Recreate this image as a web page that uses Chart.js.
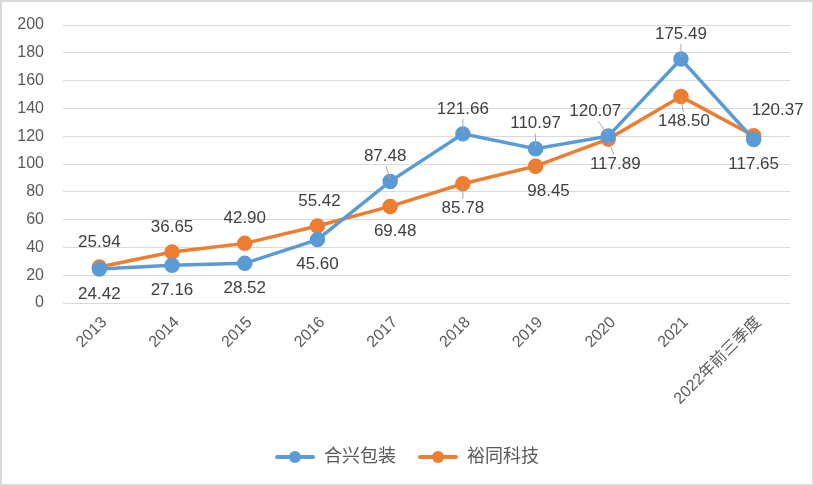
<!DOCTYPE html>
<html>
<head>
<meta charset="utf-8">
<script src="https://cdn.jsdelivr.net/npm/chart.js@4.4.0/dist/chart.umd.min.js"></script>
<style>
  body { margin: 0; background: #ffffff; }
  #wrap { width: 814px; height: 486px; }
</style>
</head>
<body>
<div id="wrap"><canvas id="grafico" width="814" height="486"></canvas></div>
<script>
// Datos del gráfico
const categorias = ['2013', '2014', '2015', '2016', '2017', '2018', '2019', '2020', '2021', '2022年前三季度'];
const nombresSeries = ['合兴包装', '裕同科技'];
const valoresHexing = [24.42, 27.16, 28.52, 45.60, 87.48, 121.66, 110.97, 120.07, 175.49, 117.65];
const valoresYutong = [25.94, 36.65, 42.90, 55.42, 69.48, 85.78, 98.45, 117.89, 148.50, 120.37];
const ticksY = [0, 20, 40, 60, 80, 100, 120, 140, 160, 180, 200];

// Posición de las etiquetas (arriba = -1, abajo = 1) y pequeños desplazamientos
const posHexing = [1, 1, 1, 1, -1, -1, -1, -1, -1, 1];
const dxHexing = [0, 0, 0, 0, -5, 0, 0, -13, 0, 0];
const posYutong = [-1, -1, -1, -1, 1, 1, 1, 1, 1, -1];
const dxYutong = [0, 0, 0, 2, 5, 0, 13, 7, 3, 24];
const guiaHexing = [false, false, false, false, true, true, true, true, true, false];
const guiaYutong = [false, false, false, false, false, true, false, true, true, false];

const AZUL = '#5b9bd5';
const NARANJA = '#ed7d31';
const FUENTE = "'Liberation Sans', 'Noto Sans CJK SC', sans-serif";

function iconoLeyenda(color) {
    let c = document.createElement('canvas');
    c.width = 40;
    c.height = 14;
    let ctx = c.getContext('2d');
    ctx.strokeStyle = color;
    ctx.lineWidth = 4;
    ctx.lineCap = 'round';
    ctx.beginPath();
    ctx.moveTo(2, 7);
    ctx.lineTo(38, 7);
    ctx.stroke();
    ctx.fillStyle = color;
    ctx.beginPath();
    ctx.arc(20, 7, 6, 0, Math.PI * 2);
    ctx.fill();
    return c;
}

// Fondo blanco y borde gris
const pluginFondo = {
    id: 'fondo',
    beforeDraw: function(chart) {
        let ctx = chart.ctx;
        ctx.save();
        ctx.fillStyle = '#ffffff';
        ctx.fillRect(0, 0, chart.width, chart.height);
        ctx.strokeStyle = '#d9d9d9';
        ctx.lineWidth = 2;
        ctx.strokeRect(1, 1, chart.width - 2, chart.height - 2);
        ctx.restore();
    }
};

// Etiquetas de datos
const pluginEtiquetas = {
    id: 'etiquetas',
    afterDatasetsDraw: function(chart) {
        let ctx = chart.ctx;
        let config = [
            { pos: posHexing, dx: dxHexing, guia: guiaHexing },
            { pos: posYutong, dx: dxYutong, guia: guiaYutong }
        ];
        ctx.save();
        ctx.font = '17px ' + FUENTE;
        ctx.textAlign = 'center';
        ctx.textBaseline = 'middle';
        for (let d = 0; d < chart.data.datasets.length; d++) {
            let meta = chart.getDatasetMeta(d);
            let valores = chart.data.datasets[d].data;
            for (let i = 0; i < meta.data.length; i++) {
                let p = meta.data[i];
                let x = p.x + config[d].dx[i];
                let y = p.y + config[d].pos[i] * 25;
                if (config[d].guia[i]) {
                    ctx.strokeStyle = '#a6a6a6';
                    ctx.lineWidth = 1;
                    ctx.beginPath();
                    ctx.moveTo(p.x, p.y + config[d].pos[i] * 2);
                    ctx.lineTo(x + (p.x - x) * 0.2, y - config[d].pos[i] * 10);
                    ctx.stroke();
                }
                ctx.fillStyle = '#404040';
                ctx.fillText(valores[i].toFixed(2), x, y);
            }
        }
        ctx.restore();
    }
};

let ctx = document.getElementById('grafico').getContext('2d');
let miGrafico = new Chart(ctx, {
    type: 'line',
    data: {
        labels: categorias,
        datasets: [{
            label: nombresSeries[0],
            data: valoresHexing,
            borderColor: AZUL,
            backgroundColor: AZUL,
            borderWidth: 3.5,
            pointRadius: 6,
            pointBackgroundColor: AZUL,
            pointBorderColor: AZUL,
            tension: 0
        }, {
            label: nombresSeries[1],
            data: valoresYutong,
            borderColor: NARANJA,
            backgroundColor: NARANJA,
            borderWidth: 3.5,
            pointRadius: 6,
            pointBackgroundColor: NARANJA,
            pointBorderColor: NARANJA,
            tension: 0
        }]
    },
    options: {
        responsive: false,
        animation: false,
        layout: {
            padding: { left: 0, right: 0, top: 25, bottom: 10 }
        },
        scales: {
            x: {
                offset: true,
                grid: { display: false },
                border: { display: false },
                ticks: {
                    color: '#595959',
                    font: { size: 16, family: FUENTE },
                    minRotation: 45,
                    maxRotation: 45,
                    autoSkip: false,
                    padding: 2,
                    labelOffset: 5
                },
                afterFit: function(scale) {
                    scale.height = 123;
                }
            },
            y: {
                min: 0,
                max: 200,
                grid: { color: '#d9d9d9', lineWidth: 1, drawTicks: false },
                border: { display: false },
                afterBuildTicks: function(scale) {
                    scale.ticks = ticksY.map(function(v) { return { value: v }; });
                },
                ticks: {
                    color: '#595959',
                    font: { size: 16, family: FUENTE },
                    padding: 19
                },
                afterFit: function(scale) {
                    scale.width = 63;
                    scale.paddingTop = 0;
                    scale.paddingBottom = 0;
                }
            },
            // eje vacío a la derecha, solo para dejar margen
            yDerecha: {
                position: 'right',
                grid: { display: false },
                border: { display: false },
                ticks: { display: false },
                afterFit: function(scale) {
                    scale.width = 24;
                    scale.paddingTop = 0;
                    scale.paddingBottom = 0;
                }
            }
        },
        plugins: {
            legend: {
                position: 'bottom',
                labels: {
                    color: '#595959',
                    font: { size: 18, family: FUENTE },
                    usePointStyle: true,
                    pointStyleWidth: 40,
                    padding: 22,
                    generateLabels: function(chart) {
                        let items = Chart.defaults.plugins.legend.labels.generateLabels(chart);
                        let colores = [AZUL, NARANJA];
                        for (let i = 0; i < items.length; i++) {
                            items[i].pointStyle = iconoLeyenda(colores[i]);
                        }
                        return items;
                    }
                }
            },
            tooltip: { enabled: false }
        }
    },
    plugins: [pluginFondo, pluginEtiquetas]
});
</script>
</body>
</html>
